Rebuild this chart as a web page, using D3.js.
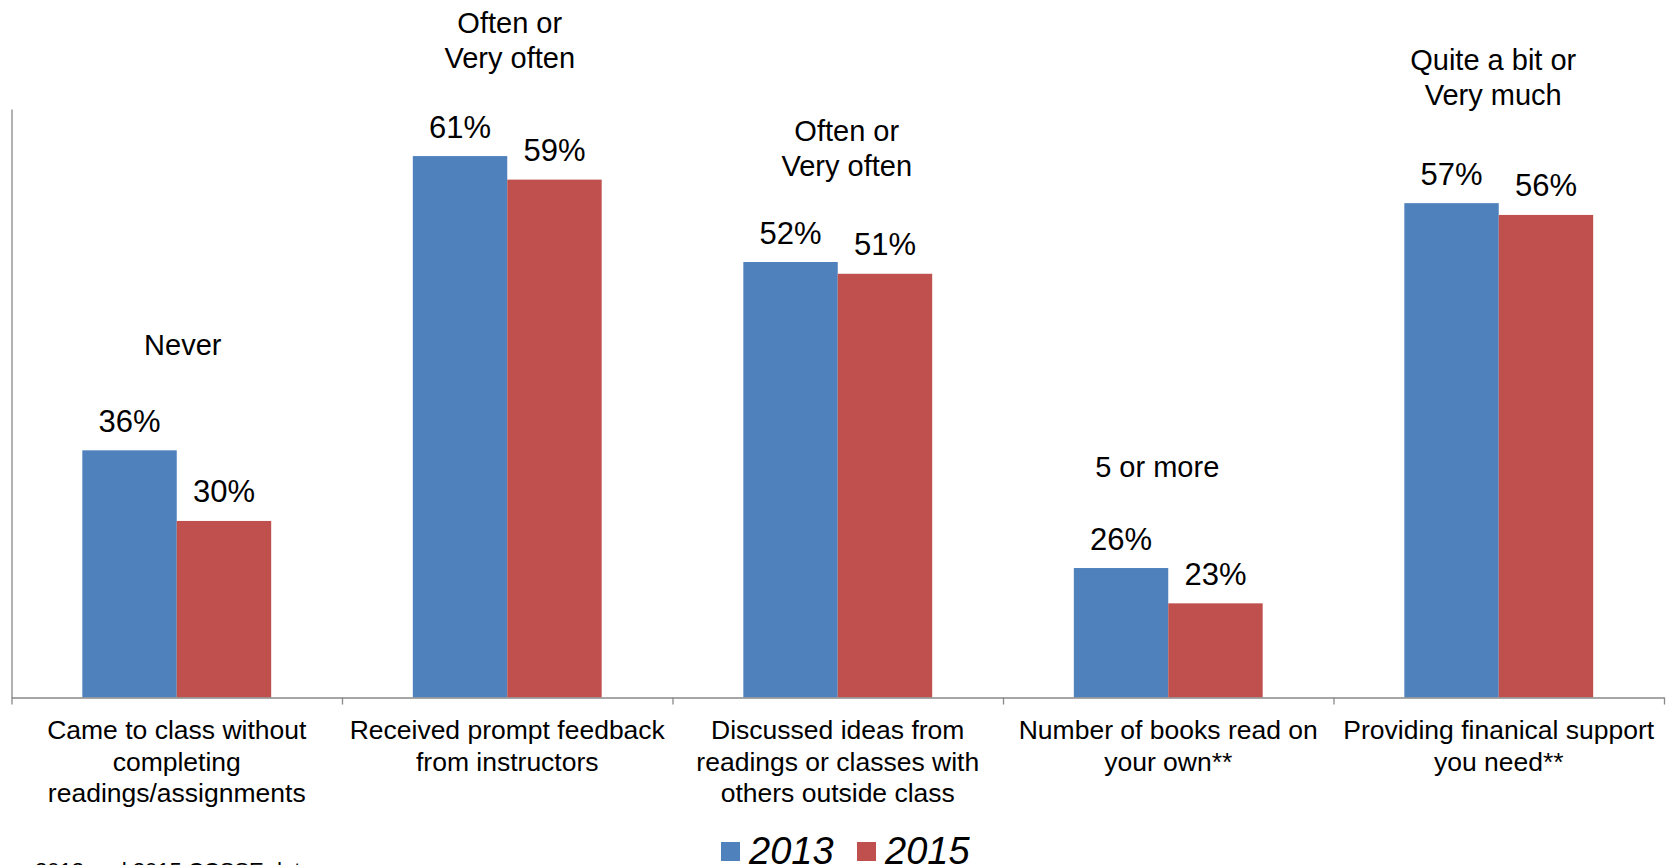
<!DOCTYPE html>
<html>
<head>
<meta charset="utf-8">
<script src="https://cdn.jsdelivr.net/npm/d3@7"></script>
<style>
  html, body { margin: 0; padding: 0; background: #fff; overflow: hidden; }
  svg { display: block; font-family: "Liberation Sans", Arial, sans-serif; }
</style>
</head>
<body>
<svg id="chart" width="1675" height="865"></svg>
<script>
// Survey items (category axis), one line per array entry
const categories = [
  ["Came to class without", "completing", "readings/assignments"],
  ["Received prompt feedback", "from instructors"],
  ["Discussed ideas from", "readings or classes with", "others outside class"],
  ["Number of books read on", "your own**"],
  ["Providing finanical support", "you need**"]
];
// Response level reported for each item
const responseNotes = [
  ["Never"],
  ["Often or", "Very often"],
  ["Often or", "Very often"],
  ["5 or more"],
  ["Quite a bit or", "Very much"]
];
const seriesNames = ["2013", "2015"];
const values2013 = [36, 61, 52, 26, 57];
const values2015 = [30, 59, 51, 23, 56];
const sourceNote = "2013 and 2015 CCSSE data";

const colors = { "2013": "#4F81BD", "2015": "#C0504D" };
const axisColor = "#898989";

// Plot frame
const plot = { left: 11.5, right: 1664, top: 109, bottom: 697.5 };
// Hand placed note boxes: horizontal shift from group centre, first baseline
const noteLayout = [
  { dx: 6, y: 354.5 },
  { dx: 2.5, y: 32.8 },
  { dx: 9, y: 140.7 },
  { dx: -11, y: 477 },
  { dx: -5.5, y: 70.2 }
];

const svg = d3.select("#chart");

const rows = categories.map((c, i) => ({
  idx: i,
  lines: c,
  vals: [
    { series: "2013", value: values2013[i] },
    { series: "2015", value: values2015[i] }
  ]
}));

const x0 = d3.scaleBand()
  .domain(d3.range(categories.length))
  .range([plot.left, plot.right])
  .paddingInner(0)
  .paddingOuter(0);

const x1 = d3.scaleBand()
  .domain(seriesNames)
  .range([0, x0.bandwidth()])
  .paddingInner(0)
  .paddingOuter(0.75);

const y = d3.scaleLinear()
  .domain([15, 65])
  .range([plot.bottom, plot.top]);

// Bars
const groups = svg.append("g").selectAll("g")
  .data(rows)
  .join("g")
  .attr("transform", d => `translate(${x0(d.idx)},0)`);

groups.selectAll("rect")
  .data(d => d.vals)
  .join("rect")
  .attr("x", d => x1(d.series))
  .attr("y", d => y(d.value))
  .attr("width", x1.bandwidth())
  .attr("height", d => y(y.domain()[0]) - y(d.value))
  .attr("fill", d => colors[d.series]);

// Value labels
groups.selectAll("text.val")
  .data(d => d.vals)
  .join("text")
  .attr("class", "val")
  .attr("x", d => x1(d.series) + x1.bandwidth() / 2)
  .attr("y", d => y(d.value) - 18.5)
  .attr("text-anchor", "middle")
  .attr("font-size", 31)
  .attr("fill", "#000")
  .text(d => d.value + "%");

// Vertical axis: line only
svg.append("g")
  .attr("transform", `translate(${plot.left},0)`)
  .call(d3.axisLeft(y).tickValues([]).tickSizeOuter(0))
  .call(g => g.select(".domain").attr("stroke", axisColor).attr("stroke-width", 1.3));

// Horizontal axis with tick marks between categories
const xb = d3.scaleLinear().domain([0, categories.length]).range([plot.left, plot.right]);
svg.append("g")
  .attr("transform", `translate(0,${plot.bottom})`)
  .call(d3.axisBottom(xb).tickValues(d3.range(categories.length + 1)).tickSize(7).tickSizeOuter(0).tickFormat(""))
  .call(g => g.select(".domain").attr("stroke", axisColor).attr("stroke-width", 1.3))
  .call(g => g.selectAll(".tick line").attr("stroke", axisColor).attr("stroke-width", 1.3));

// Category labels
const catG = svg.append("g");
rows.forEach(r => {
  const cx = x0(r.idx) + x0.bandwidth() / 2;
  const t = catG.append("text")
    .attr("text-anchor", "middle")
    .attr("font-size", 26.5)
    .attr("fill", "#000");
  r.lines.forEach((ln, k) => {
    t.append("tspan").attr("x", cx).attr("y", 739 + k * 31.5).text(ln);
  });
});

// Response level notes above each group
const noteG = svg.append("g");
responseNotes.forEach((lines, i) => {
  const cx = x0(i) + x0.bandwidth() / 2 + noteLayout[i].dx;
  const t = noteG.append("text")
    .attr("text-anchor", "middle")
    .attr("font-size", 29)
    .attr("fill", "#000");
  lines.forEach((ln, k) => {
    t.append("tspan").attr("x", cx).attr("y", noteLayout[i].y + k * 35.2).text(ln);
  });
});

// Legend
const legend = svg.append("g").attr("transform", "translate(721,842)");
const legendStep = 136;
seriesNames.forEach((s, i) => {
  const g = legend.append("g").attr("transform", `translate(${i * legendStep},0)`);
  g.append("rect").attr("width", 19).attr("height", 19).attr("fill", colors[s]);
  g.append("text")
    .attr("x", 28)
    .attr("y", 21.5)
    .attr("font-size", 38)
    .attr("font-style", "italic")
    .attr("fill", "#000")
    .text(s);
});

// Source note
svg.append("text")
  .attr("x", 35)
  .attr("y", 877.5)
  .attr("font-size", 22)
  .attr("fill", "#000")
  .text(sourceNote);
</script>
</body>
</html>
